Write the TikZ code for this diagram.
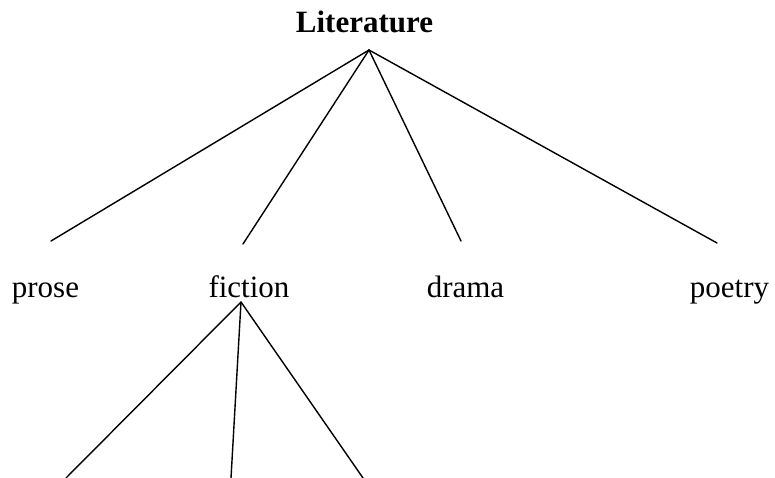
\documentclass[tikz,border=0pt]{standalone}
\usepackage{fontspec}
\setmainfont{Liberation Serif}
\begin{document}
\begin{tikzpicture}[x=1pt,y=-1pt,
  word/.style={font=\fontsize{31}{36}\selectfont, inner sep=0pt, anchor=base},
  branch/.style={line width=1.4pt, line cap=round}]
\useasboundingbox (0,0) rectangle (775,478);

% root and first-level terms
\node[word, font=\fontsize{31}{36}\selectfont\bfseries] (lit) at (364.5,33) {Literature};
\node[word] (prose)   at (45.5,297) {prose};
\node[word] (fiction) at (249,297)  {fiction};
\node[word] (drama)   at (465.5,297) {drama};
\node[word] (poetry)  at (729.5,297) {poetry};

% branch points and branch ends
\coordinate (litapex)  at (369,50);
\coordinate (proseend) at (51,241);
\coordinate (fictend)  at (243,244);
\coordinate (dramaend) at (461,241);
\coordinate (poetend)  at (717,243);
\coordinate (ficapex)  at (241,302);
\coordinate (subA) at (66,478);
\coordinate (subB) at (231,478);
\coordinate (subC) at (363,478);

\draw[branch] (litapex) -- (proseend);
\draw[branch] (litapex) -- (fictend);
\draw[branch] (litapex) -- (dramaend);
\draw[branch] (litapex) -- (poetend);

\draw[branch] (ficapex) -- (subA);
\draw[branch] (ficapex) -- (subB);
\draw[branch] (ficapex) -- (subC);
\end{tikzpicture}
\end{document}
